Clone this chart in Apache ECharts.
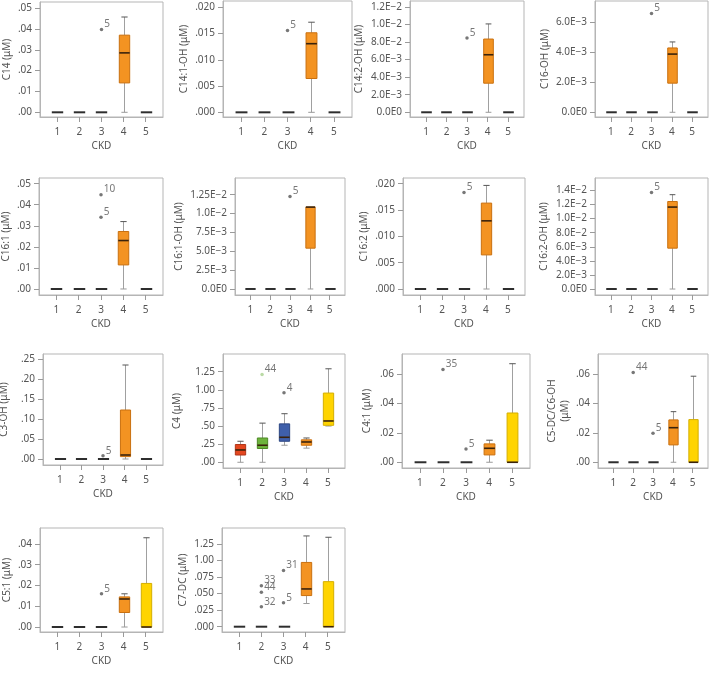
<!DOCTYPE html>
<html><head><meta charset="utf-8">
<script src="https://cdn.jsdelivr.net/npm/echarts@6/dist/echarts.min.js"></script>
<style>html,body{margin:0;padding:0;background:#fff}#c{width:709px;height:682px}</style>
</head><body><div id="c"></div><script>
// ---------- DATA ----------
const categories = ['1', '2', '3', '4', '5'];
const xAxisTitle = 'CKD';
const zeroBox = [0, 0, 0, 0, 0];

// box = [min, Q1, median, Q3, max] per CKD stage; outliers = [stage, value, case label]
const c14Box = [zeroBox, zeroBox, zeroBox, [0, 0.0141, 0.0285, 0.037, 0.0457], zeroBox];
const c14Outliers = [[3, 0.0397, '5']];
const c14TickValues = [0, 0.01, 0.02, 0.03, 0.04, 0.05];
const c14TickLabels = ['.00', '.01', '.02', '.03', '.04', '.05'];

const c141ohBox = [zeroBox, zeroBox, zeroBox, [0, 0.00644, 0.01307, 0.01515, 0.01716], zeroBox];
const c141ohOutliers = [[3, 0.0156, '5']];
const c141ohTickValues = [0, 0.005, 0.010, 0.015, 0.020];
const c141ohTickLabels = ['.000', '.005', '.010', '.015', '.020'];

const c142ohBox = [zeroBox, zeroBox, zeroBox, [0, 0.00331, 0.00655, 0.00834, 0.01006], zeroBox];
const c142ohOutliers = [[3, 0.00846, '5']];
const c142ohTickValues = [0, 0.002, 0.004, 0.006, 0.008, 0.010, 0.012];
const c142ohTickLabels = ['0.0E0', '2.0E\u22123', '4.0E\u22123', '6.0E\u22123', '8.0E\u22122', '1.0E\u22122', '1.2E\u22122'];

const c16ohBox = [zeroBox, zeroBox, zeroBox, [0, 0.00194, 0.00388, 0.00429, 0.00469], zeroBox];
const c16ohOutliers = [[3, 0.00658, '5']];
const c16ohTickValues = [0, 0.002, 0.004, 0.006];
const c16ohTickLabels = ['0.0E0', '2.0E\u22123', '4.0E\u22123', '6.0E\u22123'];

const c161Box = [zeroBox, zeroBox, zeroBox, [0, 0.01143, 0.0230, 0.0273, 0.032], zeroBox];
const c161Outliers = [[3, 0.0448, '10'], [3, 0.0341, '5']];
const c161TickValues = [0, 0.01, 0.02, 0.03, 0.04, 0.05];
const c161TickLabels = ['.00', '.01', '.02', '.03', '.04', '.05'];

const c161ohBox = [zeroBox, zeroBox, zeroBox, [0, 0.00541, 0.01086, 0.01086, 0.01086], zeroBox];
const c161ohOutliers = [[3, 0.01227, '5']];
const c161ohTickValues = [0, 0.0025, 0.005, 0.0075, 0.010, 0.0125];
const c161ohTickLabels = ['0.0E0', '2.5E\u22123', '5.0E\u22123', '7.5E\u22123', '1.0E\u22122', '1.25E\u22122'];

const c162Box = [zeroBox, zeroBox, zeroBox, [0, 0.00648, 0.01295, 0.01632, 0.01968], zeroBox];
const c162Outliers = [[3, 0.01834, '5']];
const c162TickValues = [0, 0.005, 0.010, 0.015, 0.020];
const c162TickLabels = ['.000', '.005', '.010', '.015', '.020'];

const c162ohBox = [zeroBox, zeroBox, zeroBox, [0, 0.0058, 0.01164, 0.01243, 0.0134], zeroBox];
const c162ohOutliers = [[3, 0.01372, '5']];
const c162ohTickValues = [0, 0.002, 0.004, 0.006, 0.008, 0.010, 0.012, 0.014];
const c162ohTickLabels = ['0.0E0', '2.0E\u22123', '4.0E\u22123', '6.0E\u22123', '8.0E\u22122', '1.0E\u22122', '1.2E\u22122', '1.4E\u22122'];

const c3ohBox = [zeroBox, zeroBox, zeroBox, [0, 0.006, 0.010, 0.1225, 0.235], zeroBox];
const c3ohOutliers = [[3, 0.008, '5']];
const c3ohTickValues = [0, 0.05, 0.10, 0.15, 0.20, 0.25];
const c3ohTickLabels = ['.00', '.05', '.10', '.15', '.20', '.25'];

const c4Box = [[0, 0.10, 0.17, 0.245, 0.29], [0, 0.19, 0.235, 0.335, 0.54], [0.235, 0.29, 0.345, 0.53, 0.67], [0.195, 0.235, 0.28, 0.31, 0.335], [0.5, 0.51, 0.57, 0.955, 1.29]];
const c4Outliers = [[2, 1.21, '44'], [3, 0.96, '4']];
const c4TickValues = [0, 0.25, 0.50, 0.75, 1.00, 1.25];
const c4TickLabels = ['.00', '.25', '.50', '.75', '1.00', '1.25'];

const c41Box = [zeroBox, zeroBox, zeroBox, [0, 0.005, 0.0095, 0.0125, 0.015], [0, 0, 0, 0.0335, 0.067]];
const c41Outliers = [[2, 0.063, '35'], [3, 0.009, '5']];
const c41TickValues = [0, 0.02, 0.04, 0.06];
const c41TickLabels = ['.00', '.02', '.04', '.06'];

const c5dcBox = [zeroBox, zeroBox, zeroBox, [0, 0.0118, 0.0235, 0.0288, 0.0344], [0, 0, 0, 0.029, 0.0585]];
const c5dcOutliers = [[2, 0.061, '44'], [3, 0.0197, '5']];
const c5dcTickValues = [0, 0.02, 0.04, 0.06];
const c5dcTickLabels = ['.00', '.02', '.04', '.06'];

const c51Box = [zeroBox, zeroBox, zeroBox, [0, 0.007, 0.0135, 0.0145, 0.016], [0, 0, 0, 0.021, 0.043]];
const c51Outliers = [[3, 0.016, '5']];
const c51TickValues = [0, 0.01, 0.02, 0.03, 0.04];
const c51TickLabels = ['.00', '.01', '.02', '.03', '.04'];

const c7dcBox = [zeroBox, zeroBox, zeroBox, [0.35, 0.47, 0.57, 0.97, 1.37], [0, 0, 0, 0.68, 1.35]];
const c7dcOutliers = [[2, 0.62, '33'], [2, 0.52, '44'], [2, 0.30, '32'], [3, 0.85, '31'], [3, 0.36, '5']];
const c7dcTickValues = [0, 0.25, 0.50, 0.75, 1.00, 1.25];
const c7dcTickLabels = ['.000', '.025', '.050', '.075', '1.00', '1.25'];

// ---------- PANELS (layout kept separate from data) ----------
const panels = [
  { name: 'C14 (\u03bcM)', box: c14Box, out: c14Outliers, tv: c14TickValues, tl: c14TickLabels, frame: [40, 2, 163, 117], y: [-0.00225, 0.0529], gap: 24 },
  { name: 'C14:1-OH (\u03bcM)', box: c141ohBox, out: c141ohOutliers, tv: c141ohTickValues, tl: c141ohTickLabels, frame: [223, 1, 352, 117], y: [-0.00089, 0.0212], gap: 32 },
  { name: 'C14:2-OH (\u03bcM)', box: c142ohBox, out: c142ohOutliers, tv: c142ohTickValues, tl: c142ohTickLabels, frame: [410, 1, 524, 117], y: [-0.000537, 0.01267], gap: 44 },
  { name: 'C16-OH (\u03bcM)', box: c16ohBox, out: c16ohOutliers, tv: c16ohTickValues, tl: c16ohTickLabels, frame: [595, 1, 708, 117], y: [-0.000315, 0.00742], gap: 43 },
  { name: 'C16:1 (\u03bcM)', box: c161Box, out: c161Outliers, tv: c161TickValues, tl: c161TickLabels, frame: [39, 178, 163, 295], y: [-0.00286, 0.0527], gap: 25 },
  { name: 'C16:1-OH (\u03bcM)', box: c161ohBox, out: c161ohOutliers, tv: c161ohTickValues, tl: c161ohTickLabels, frame: [235, 178, 345, 295], y: [-0.0008, 0.01472], gap: 49 },
  { name: 'C16:2 (\u03bcM)', box: c162Box, out: c162Outliers, tv: c162TickValues, tl: c162TickLabels, frame: [403, 178, 525, 295], y: [-0.00114, 0.02109], gap: 32 },
  { name: 'C16:2-OH (\u03bcM)', box: c162ohBox, out: c162ohOutliers, tv: c162ohTickValues, tl: c162ohTickLabels, frame: [595, 178, 708, 295], y: [-0.00085, 0.01577], gap: 44 },
  { name: 'C3-OH (\u03bcM)', box: c3ohBox, out: c3ohOutliers, tv: c3ohTickValues, tl: c3ohTickLabels, frame: [43, 354, 163, 465], y: [-0.015, 0.2625], gap: 32 },
  { name: 'C4 (\u03bcM)', box: c4Box, out: c4Outliers, tv: c4TickValues, tl: c4TickLabels, frame: [223, 354, 345, 468], y: [-0.079, 1.494], gap: 39 },
  { name: 'C4:1 (\u03bcM)', box: c41Box, out: c41Outliers, tv: c41TickValues, tl: c41TickLabels, frame: [402, 354, 530, 468], y: [-0.0039, 0.0736], gap: 28 },
  { name: 'C5-DC/C6-OH\n(\u03bcM)', box: c5dcBox, out: c5dcOutliers, tv: c5dcTickValues, tl: c5dcTickLabels, frame: [598, 354, 708, 468], y: [-0.0039, 0.0736], gap: 24 },
  { name: 'C5:1 (\u03bcM)', box: c51Box, out: c51Outliers, tv: c51TickValues, tl: c51TickLabels, frame: [40, 528, 163, 632], y: [-0.0024, 0.0477], gap: 25 },
  { name: 'C7-DC (\u03bcM)', box: c7dcBox, out: c7dcOutliers, tv: c7dcTickValues, tl: c7dcTickLabels, frame: [222, 528, 345, 632], y: [-0.08, 1.49], gap: 32 }
];

// ---------- STYLE ----------
const groupFill = ['#E4471F', '#6DB33C', '#3F5FAA', '#F39322', '#FFD400'];
const groupStroke = ['#B0351A', '#4C8A25', '#2C4683', '#C9700F', '#D4AE00'];
const textColor = '#555';
const frameColor = '#b5b5b5';
const fontFamily = '"Noto Sans", "DejaVu Sans", sans-serif';
const xPad = 0.78;

function renderBox(params, api) {
  const x = api.value(0);
  const mn = api.value(1), q1 = api.value(2), md = api.value(3), q3 = api.value(4), mx = api.value(5);
  const spacing = api.size([1, 0])[0];
  const w = Math.min(11, spacing * 0.47);
  const pMin = api.coord([x, mn]), pQ1 = api.coord([x, q1]), pMd = api.coord([x, md]);
  const pQ3 = api.coord([x, q3]), pMax = api.coord([x, mx]);
  const cx = Math.round(pMin[0]) + 0.5;
  const ci = x - 1;
  const children = [];
  if (mx === mn) {
    children.push({ type: 'line', shape: { x1: cx - w / 2 - 0.5, y1: pMd[1], x2: cx + w / 2 + 0.5, y2: pMd[1] }, style: { stroke: '#2e2e2e', lineWidth: 2 } });
    return { type: 'group', children };
  }
  if (mx > q3) children.push({ type: 'line', shape: { x1: cx, y1: pMax[1], x2: cx, y2: pQ3[1] }, style: { stroke: '#a0a0a0', lineWidth: 1 } });
  if (q1 > mn) children.push({ type: 'line', shape: { x1: cx, y1: pQ1[1], x2: cx, y2: pMin[1] }, style: { stroke: '#a0a0a0', lineWidth: 1 } });
  if (mx > q3) children.push({ type: 'line', shape: { x1: cx - w * 0.3, y1: pMax[1], x2: cx + w * 0.3, y2: pMax[1] }, style: { stroke: '#555', lineWidth: 1 } });
  if (q1 > mn) children.push({ type: 'line', shape: { x1: cx - w * 0.3, y1: pMin[1], x2: cx + w * 0.3, y2: pMin[1] }, style: { stroke: '#9a9a9a', lineWidth: 1 } });
  children.push({ type: 'rect', shape: { x: cx - w / 2, y: pQ3[1], width: w, height: Math.max(1, pQ1[1] - pQ3[1]) }, style: { fill: groupFill[ci], stroke: groupStroke[ci], lineWidth: 1 } });
  children.push({ type: 'line', shape: { x1: cx - w / 2, y1: pMd[1], x2: cx + w / 2, y2: pMd[1] }, style: { stroke: '#3a230c', lineWidth: 1.6 } });
  return { type: 'group', children };
}

function labelFor(tv, tl) {
  return function (v) {
    for (let i = 0; i < tv.length; i++) {
      if (Math.abs(tv[i] - v) < 1e-9 + Math.abs(v) * 1e-6) return tl[i];
    }
    return '';
  };
}

const grids = [], xAxes = [], yAxes = [], series = [];
panels.forEach((p, i) => {
  const [L, T, R, B] = p.frame;
  grids.push({ left: L, top: T, width: R - L, height: B - T, show: true, borderColor: frameColor, borderWidth: 1, containLabel: false, outerBoundsMode: 'none' });
  xAxes.push({
    gridIndex: i, type: 'value', min: 1 - xPad, max: 5 + xPad,
    axisLine: { show: true, onZero: false, lineStyle: { color: frameColor } },
    axisTick: { show: true, customValues: [1, 2, 3, 4, 5], length: 5, lineStyle: { color: '#9a9a9a' } },
    axisLabel: { customValues: [1, 2, 3, 4, 5], formatter: v => categories[Math.round(v) - 1], margin: 10, fontSize: 10, color: textColor, fontFamily },
    splitLine: { show: false },
    name: xAxisTitle, nameLocation: 'middle', nameGap: 24, nameTextStyle: { fontSize: 10, color: textColor, fontFamily }
  });
  yAxes.push({
    gridIndex: i, type: 'value', min: p.y[0], max: p.y[1],
    axisLine: { show: true, lineStyle: { color: frameColor } },
    axisTick: { show: true, customValues: p.tv, length: 5, lineStyle: { color: '#9a9a9a' } },
    axisLabel: { customValues: p.tv, formatter: labelFor(p.tv, p.tl), margin: 8, fontSize: 10, color: textColor, fontFamily },
    splitLine: { show: false },
    name: p.name, nameLocation: 'middle', nameRotate: 90, nameGap: p.gap,
    nameTextStyle: { fontSize: 10, color: textColor, fontFamily, lineHeight: 13 }
  });
  series.push({
    type: 'custom', xAxisIndex: i, yAxisIndex: i, clip: false,
    data: p.box.map((b, k) => [k + 1, b[0], b[1], b[2], b[3], b[4]]),
    encode: { x: 0, y: [1, 2, 3, 4, 5] },
    renderItem: renderBox, silent: true, animation: false
  });
  series.push({
    type: 'scatter', xAxisIndex: i, yAxisIndex: i, animation: false, silent: true,
    symbol: 'circle', symbolSize: 3.5,
    itemStyle: { color: '#555' },
    data: p.out.map(o => ({
      value: [o[0], o[1]],
      itemStyle: (p.name.startsWith('C4 ') && o[0] === 2) ? { color: '#A9D18E' } : undefined,
      label: { formatter: o[2] }
    })),
    label: { show: true, position: 'right', distance: 1, offset: [0, -5], fontSize: 10, color: textColor, fontFamily }
  });
});

const chart = echarts.init(document.getElementById('c'), null, { renderer: 'canvas' });
chart.setOption({ animation: false, backgroundColor: '#fff', grid: grids, xAxis: xAxes, yAxis: yAxes, series });
</script></body></html>
